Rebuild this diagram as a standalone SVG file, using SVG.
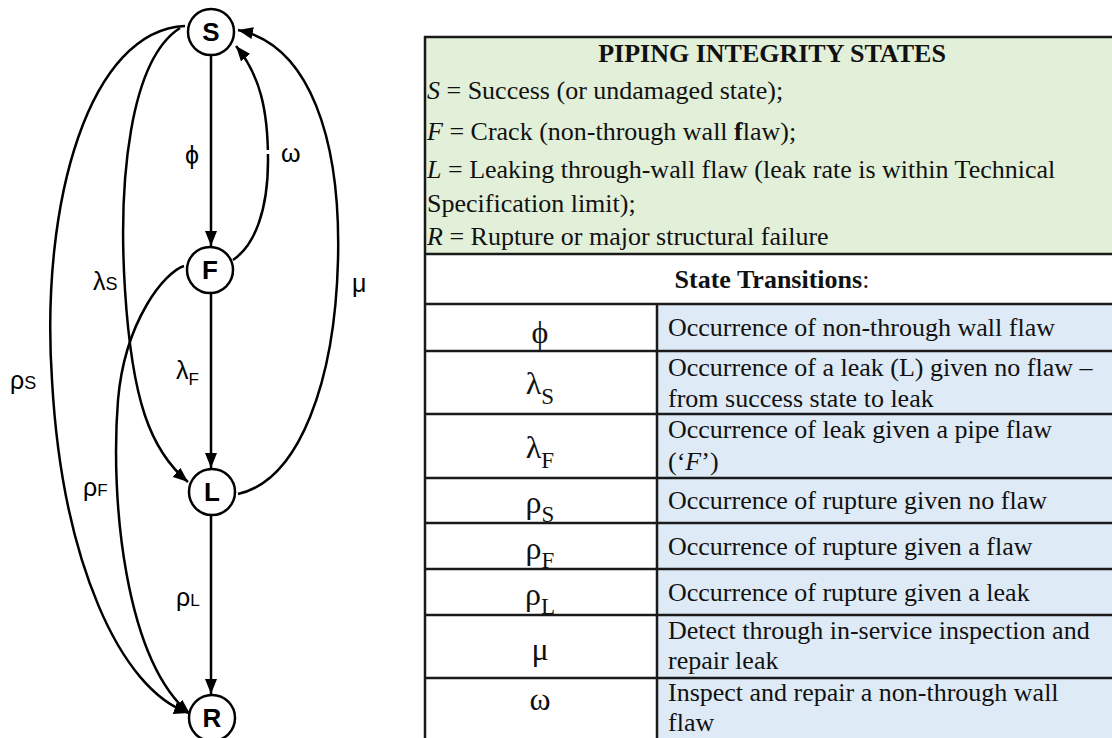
<svg xmlns="http://www.w3.org/2000/svg" width="1112" height="738" viewBox="0 0 1112 738">
<style>
.edge{fill:none;stroke:#000;stroke-width:2.5}
.node{fill:#fff;stroke:#000;stroke-width:2.5}
.nl{font-family:"Liberation Sans",Arial,sans-serif;font-weight:bold;font-size:26px;text-anchor:middle}
.el{font-family:"Liberation Sans",Arial,sans-serif;font-size:25px}
.tt{font-family:"Liberation Serif","Times New Roman",serif;font-size:26px;fill:#111}
.sym{font-family:"Liberation Serif","Times New Roman",serif;font-size:32px;fill:#111;text-anchor:middle}
.grid{stroke:#1a1a1a;stroke-width:2.5}
</style>
<defs>
<marker id="ah" markerUnits="userSpaceOnUse" markerWidth="16" markerHeight="12" refX="15" refY="6" orient="auto">
<path d="M0,0 L15,6 L0,12 z" fill="#000"/>
</marker>
</defs>
<rect width="1112" height="738" fill="#fff"/>
<g id="connectors">
<path class="edge" d="M211,56 L211,246" marker-end="url(#ah)"/>
<path class="edge" d="M211,294 L211,468" marker-end="url(#ah)"/>
<path class="edge" d="M211,516 L211,694" marker-end="url(#ah)"/>
<path class="edge" d="M233,260 C255,245 268,210 268,160 C268,110 260,75 236,46" marker-end="url(#ah)"/>
<rect x="262" y="150" width="12" height="4" fill="#fff"/>
<path class="edge" d="M238,494 C300,480 335,380 338,260 C341,140 310,45 238,30" marker-end="url(#ah)"/>
<path class="edge" d="M180,28 C130,60 118,180 125,290 C132,400 150,450 188,482" marker-end="url(#ah)"/>
<path class="edge" d="M185,26 C90,30 40,200 52,380 C62,560 120,690 189,713" marker-end="url(#ah)"/>
<path class="edge" d="M184,266 C165,272 125,320 118,400 C110,500 125,660 190,714" marker-end="url(#ah)"/>
<text class="el" x="185" y="164">ϕ</text>
<text class="el" x="281" y="162">ω</text>
<text class="el" x="352" y="292">μ</text>
<text class="el" x="93" y="290">λ<tspan font-size="18">S</tspan></text>
<text class="el" x="10" y="389">ρ<tspan font-size="18">S</tspan></text>
<text class="el" x="83" y="496">ρ<tspan font-size="17">F</tspan></text>
<text class="el" x="176" y="379">λ<tspan font-size="17" dy="6">F</tspan></text>
<text class="el" x="176" y="606">ρ<tspan font-size="17">L</tspan></text>
</g>
<g id="node-S"><circle class="node" cx="211" cy="32" r="23"/><text class="nl" x="211" y="41">S</text></g>
<g id="node-F"><circle class="node" cx="210" cy="270" r="23"/><text class="nl" x="210" y="279">F</text></g>
<g id="node-L"><circle class="node" cx="212" cy="492" r="23"/><text class="nl" x="212" y="501">L</text></g>
<g id="node-R"><circle class="node" cx="212" cy="718" r="23"/><text class="nl" x="212" y="727">R</text></g>
<g id="table">
<rect x="424" y="37" width="690" height="217" fill="#e2efd9"/>
<rect x="424" y="254" width="690" height="50" fill="#fff"/>
<rect x="424" y="304" width="233" height="440" fill="#fff"/>
<rect x="657" y="304" width="457" height="440" fill="#deeaf6"/>
<text class="tt" x="772" y="62" text-anchor="middle" font-weight="bold" font-size="24">PIPING INTEGRITY STATES</text>
<text class="tt" x="427" y="99"><tspan font-style="italic">S</tspan> = Success (or undamaged state);</text>
<text class="tt" x="427" y="140"><tspan font-style="italic">F</tspan> = Crack (non-through wall <tspan font-weight="bold">f</tspan>law);</text>
<text class="tt" x="427" y="178"><tspan font-style="italic">L</tspan> = Leaking through-wall flaw (leak rate is within Technical</text>
<text class="tt" x="427" y="212">Specification limit);</text>
<text class="tt" x="427" y="245"><tspan font-style="italic">R</tspan> = Rupture or major structural failure</text>
<text class="tt" x="772" y="288" text-anchor="middle" font-size="23"><tspan font-weight="bold">State Transitions</tspan>:</text>
<text class="sym" x="540" y="343">ϕ</text>
<text class="sym" x="540" y="394">λ<tspan font-size="23" dy="10">S</tspan></text>
<text class="sym" x="540" y="458">λ<tspan font-size="23" dy="10">F</tspan></text>
<text class="sym" x="540" y="513">ρ<tspan font-size="23" dy="9">S</tspan></text>
<text class="sym" x="540" y="559">ρ<tspan font-size="23" dy="9">F</tspan></text>
<text class="sym" x="540" y="605">ρ<tspan font-size="23" dy="9">L</tspan></text>
<text class="sym" x="540" y="660">μ</text>
<text class="sym" x="540" y="710">ω</text>
<text class="tt" x="668" y="336">Occurrence of non-through wall flaw</text>
<text class="tt" x="668" y="376">Occurrence of a leak (L) given no flaw –</text>
<text class="tt" x="668" y="407">from success state to leak</text>
<text class="tt" x="668" y="438">Occurrence of leak given a pipe flaw</text>
<text class="tt" x="668" y="470">(‘<tspan font-style="italic">F</tspan>’)</text>
<text class="tt" x="668" y="509">Occurrence of rupture given no flaw</text>
<text class="tt" x="668" y="555">Occurrence of rupture given a flaw</text>
<text class="tt" x="668" y="601">Occurrence of rupture given a leak</text>
<text class="tt" x="668" y="639">Detect through in-service inspection and</text>
<text class="tt" x="668" y="669">repair leak</text>
<text class="tt" x="668" y="701">Inspect and repair a non-through wall</text>
<text class="tt" x="668" y="731">flaw</text>
<g class="grid">
<line x1="424" y1="37" x2="1112" y2="37"/>
<line x1="424" y1="254" x2="1112" y2="254"/>
<line x1="424" y1="304" x2="1112" y2="304"/>
<line x1="424" y1="351" x2="1112" y2="351"/>
<line x1="424" y1="414" x2="1112" y2="414"/>
<line x1="424" y1="478" x2="1112" y2="478"/>
<line x1="424" y1="523" x2="1112" y2="523"/>
<line x1="424" y1="569" x2="1112" y2="569"/>
<line x1="424" y1="615" x2="1112" y2="615"/>
<line x1="424" y1="678" x2="1112" y2="678"/>
<line x1="425" y1="36" x2="425" y2="738"/>
<line x1="657" y1="304" x2="657" y2="738"/>
</g>
</g>
</svg>
